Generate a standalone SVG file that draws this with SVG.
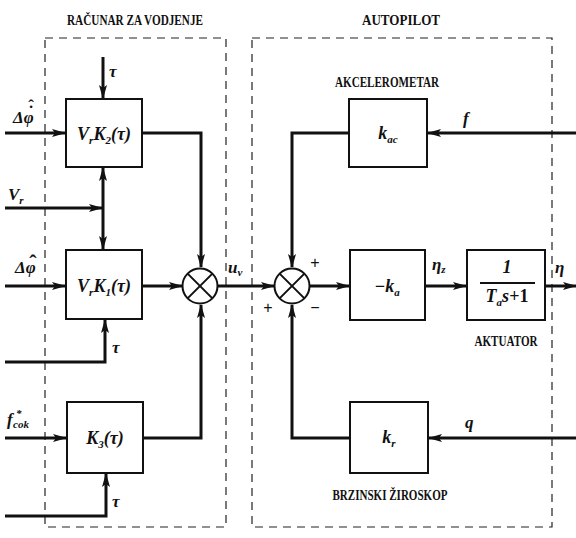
<svg xmlns="http://www.w3.org/2000/svg" width="576" height="538" viewBox="0 0 576 538">
<style>
.box{fill:#fff;stroke:#111;stroke-width:2}
.ln{fill:none;stroke:#111;stroke-width:3}
.thin{fill:none;stroke:#111;stroke-width:2}
.dash{fill:none;stroke:#222;stroke-width:1.2;stroke-dasharray:8 6}
.m{font-family:"Liberation Serif","DejaVu Serif",serif;font-style:italic;font-weight:bold;font-size:17px;fill:#111}
.bm{font-family:"Liberation Serif","DejaVu Serif",serif;font-style:italic;font-weight:bold;font-size:18px;fill:#111}
.ac{font-style:normal}
.s{font-size:11px}
.t{font-family:"Liberation Serif","DejaVu Serif",serif;font-weight:bold;font-size:14px;fill:#111}
.sg{font-family:"Liberation Sans","DejaVu Sans",sans-serif;font-size:16px;fill:#111}
</style>
<defs>
<marker id="a" markerWidth="14" markerHeight="10" refX="13" refY="5" orient="auto-start-reverse" markerUnits="userSpaceOnUse">
<path d="M0,1 L14,5 L0,9 L3,5 z" fill="#111"/>
</marker>
</defs>
<rect width="576" height="538" fill="#fff"/>

<g id="frames">
<rect class="dash" x="45" y="38" width="181" height="489"/>
<rect class="dash" x="252" y="38" width="300" height="489"/>
<text class="t" x="135" y="25" text-anchor="middle" textLength="136" lengthAdjust="spacingAndGlyphs">RAČUNAR ZA VODJENJE</text>
<text class="t" x="401" y="25" text-anchor="middle" textLength="78" lengthAdjust="spacingAndGlyphs">AUTOPILOT</text>
</g>

<g id="connectors">
<path class="ln" d="M5,133 H65" marker-end="url(#a)"/>
<path class="ln" d="M103,57 V98" marker-end="url(#a)"/>
<path class="ln" d="M142,133 H201 V267" marker-end="url(#a)"/>
<path class="ln" d="M5,208 H102" marker-end="url(#a)"/>
<path class="ln" d="M103,168 V249" marker-start="url(#a)" marker-end="url(#a)"/>
<path class="ln" d="M5,286 H65" marker-end="url(#a)"/>
<path class="ln" d="M142,286 H182" marker-end="url(#a)"/>
<path class="ln" d="M5,362 H105 V320" marker-end="url(#a)"/>
<path class="ln" d="M5,438 H66" marker-end="url(#a)"/>
<path class="ln" d="M143,438 H201 V305" marker-end="url(#a)"/>
<path class="ln" d="M5,516 H106 V474" marker-end="url(#a)"/>
<path class="ln" d="M218,286 H274" marker-end="url(#a)"/>
<path class="ln" d="M349,133 H292 V267" marker-end="url(#a)"/>
<path class="ln" d="M576,133 H428" marker-end="url(#a)"/>
<path class="ln" d="M350,438 H292 V305" marker-end="url(#a)"/>
<path class="ln" d="M576,438 H429" marker-end="url(#a)"/>
<path class="ln" d="M310,286 H349" marker-end="url(#a)"/>
<path class="ln" d="M425,286 H466" marker-end="url(#a)"/>
<path class="ln" d="M545,286 H576" marker-end="url(#a)"/>
</g>

<g id="in-labels">
<text class="m" x="13" y="123">Δφ<tspan class="ac" x="31" y="117" text-anchor="middle">˙</tspan><tspan class="ac" x="31" y="111" text-anchor="middle">ˆ</tspan></text>
<text class="m" x="8" y="200">V<tspan class="s" dy="4">r</tspan></text>
<text class="m" x="15" y="273">Δφ<tspan class="ac" x="33" y="270" text-anchor="middle" font-size="22px">ˆ</tspan></text>
<text class="m" x="7" y="425">f<tspan class="s" x="16" y="417">*</tspan><tspan class="s" x="13" y="428">cok</tspan></text>
<text class="m" x="109" y="77">τ</text>
<text class="m" x="112" y="353">τ</text>
<text class="m" x="112" y="507">τ</text>
<text class="m" x="228" y="273">u<tspan class="s" dy="3">v</tspan></text>
<text class="m" x="463" y="124">f</text>
<text class="m" x="465" y="428">q</text>
<text class="m" x="432" y="270">η<tspan class="s" dy="3">z</tspan></text>
<text class="m" x="555" y="273">η</text>
<text class="sg" x="315" y="268" text-anchor="middle">+</text>
<text class="sg" x="268" y="313" text-anchor="middle">+</text>
<text class="sg" x="315" y="313" text-anchor="middle">−</text>
</g>

<g id="VrK2">
<rect class="box" x="66" y="99" width="76" height="68"/>
<text class="bm" x="104" y="140" text-anchor="middle">V<tspan class="s" dy="4">r</tspan><tspan dy="-4">K</tspan><tspan class="s" dy="4">2</tspan><tspan dy="-4">(τ)</tspan></text>
</g>

<g id="VrK1">
<rect class="box" x="66" y="250" width="76" height="69"/>
<text class="bm" x="104" y="292" text-anchor="middle">V<tspan class="s" dy="4">r</tspan><tspan dy="-4">K</tspan><tspan class="s" dy="4">1</tspan><tspan dy="-4">(τ)</tspan></text>
</g>

<g id="K3">
<rect class="box" x="67" y="402" width="76" height="71"/>
<text class="bm" x="105" y="444" text-anchor="middle">K<tspan class="s" dy="4">3</tspan><tspan dy="-4">(τ)</tspan></text>
</g>

<g id="sum1">
<circle class="thin" cx="200" cy="286" r="17.5"/>
<path class="thin" d="M187.6,273.6 L212.4,298.4 M212.4,273.6 L187.6,298.4"/>
</g>

<g id="sum2">
<circle class="thin" cx="292" cy="286" r="17.5"/>
<path class="thin" d="M279.6,273.6 L304.4,298.4 M304.4,273.6 L279.6,298.4"/>
</g>

<g id="kac">
<text class="t" x="387" y="87" text-anchor="middle" textLength="104" lengthAdjust="spacingAndGlyphs">AKCELEROMETAR</text>
<rect class="box" x="349" y="99" width="78" height="68"/>
<text class="bm" x="388" y="139" text-anchor="middle">k<tspan class="s" dy="4">ac</tspan></text>
</g>

<g id="ka">
<rect class="box" x="350" y="250" width="75" height="70"/>
<text class="bm" x="387" y="292" text-anchor="middle">−k<tspan class="s" dy="4">a</tspan></text>
</g>

<g id="aktuator">
<rect class="box" x="467" y="250" width="78" height="70"/>
<text class="bm" x="507" y="273" text-anchor="middle" font-style="normal">1</text>
<path class="thin" d="M480,283 H535"/>
<text class="bm" x="507" y="302" text-anchor="middle">T<tspan class="s" dy="4">a</tspan><tspan dy="-4">s</tspan><tspan font-style="normal">+1</tspan></text>
<text class="t" x="506" y="346" text-anchor="middle" textLength="63" lengthAdjust="spacingAndGlyphs">AKTUATOR</text>
</g>

<g id="kr">
<rect class="box" x="350" y="402" width="78" height="71"/>
<text class="bm" x="389" y="443" text-anchor="middle">k<tspan class="s" dy="4">r</tspan></text>
<text class="t" x="390" y="500" text-anchor="middle" textLength="115" lengthAdjust="spacingAndGlyphs">BRZINSKI ŽIROSKOP</text>
</g>
</svg>
